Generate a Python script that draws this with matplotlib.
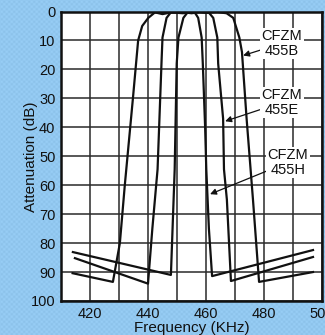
import numpy as np
import matplotlib.pyplot as plt

# filter response curves (freq in kHz, attenuation in dB)
freq_b = [414.0, 427.9, 430.3, 432.0, 434.8, 436.6, 438.0, 440.1, 442.4, 445.0, 448.0,
          452.0, 456.0, 460.0, 464.0, 467.1, 469.4, 471.5, 472.4, 474.0, 476.2, 478.3, 496.9]
att_b = [90.4, 93.4, 80.0, 60.0, 30.0, 10.0, 5.0, 2.2, 0.3, 0.9, 0.3,
         0.6, 0.1, 0.4, 0.2, 0.6, 2.2, 9.0, 14.0, 37.0, 65.0, 93.4, 90.0]

freq_e = [414.8, 440.0, 441.5, 443.3, 444.7, 445.0, 446.4, 447.8, 451.0, 455.0, 458.0,
          461.0, 462.5, 463.9, 464.2, 465.9, 466.2, 467.2, 468.6, 496.9]
att_e = [85.2, 94.0, 75.0, 54.5, 16.5, 9.0, 2.2, 0.4, 0.1, 0.6, 0.2,
         0.4, 2.2, 9.0, 18.0, 37.0, 54.5, 65.0, 93.1, 84.8]

freq_h = [414.1, 447.9, 449.2, 449.9, 450.5, 452.2, 453.5, 455.0, 456.3, 457.3, 458.5,
          458.9, 459.7, 460.1, 461.0, 462.1, 496.9]
att_h = [83.1, 91.0, 54.5, 18.0, 9.0, 2.2, 0.5, 0.2, 0.6, 2.2, 9.0,
         18.0, 40.0, 54.5, 75.0, 91.4, 82.4]

labels = ['CFZM\n455B', 'CFZM\n455E', 'CFZM\n455H']
label_pos = [(486.2, 11.0), (486.2, 31.4), (488.3, 52.1)]
arrow_tip = [(472.8, 15.2), (466.6, 37.9), (461.4, 63.1)]

x_ticks = [420, 440, 460, 480, 500]
y_ticks = list(range(0, 101, 10))

bg = '#92c8f0'
plt.rcParams['font.family'] = ['Liberation Sans', 'DejaVu Sans']

fig = plt.figure(figsize=(3.25, 3.35), dpi=100, facecolor=bg)

# light screen texture of the printed background
yy, xx = np.mgrid[0:335, 0:325]
tex = 0.5 * (np.sin(xx * 2 * np.pi / 5.0) * np.sin(yy * 2 * np.pi / 5.0))
base = np.array([0x92, 0xc8, 0xf0]) / 255.0
img = np.clip(base[None, None, :] + 0.05 * tex[:, :, None], 0, 1)
fig.figimage(img, 0, 0, zorder=-10)

ax = fig.add_axes([61 / 325, 1 - 301 / 335, 261 / 325, 289.5 / 335], zorder=1)
ax.set_facecolor('white')

for f in range(410, 501, 10):
    ax.axvline(f, color='#2a2a2a', lw=1.1, zorder=1)
for a in y_ticks:
    ax.axhline(a, color='#2a2a2a', lw=1.1, zorder=1)

for fr, at in [(freq_b, att_b), (freq_e, att_e), (freq_h, att_h)]:
    ax.plot(fr, at, color='#111111', lw=1.6, zorder=3, solid_joinstyle='round')

for txt, pos, tip in zip(labels, label_pos, arrow_tip):
    ax.annotate(txt, xy=tip, xytext=pos, ha='center', va='center', fontsize=10.5,
                color='#111111', linespacing=1.05, zorder=5,
                bbox=dict(boxstyle='square,pad=0.1', fc='white', ec='none'),
                arrowprops=dict(arrowstyle='-|>', color='#111111', lw=0.9,
                                mutation_scale=9, shrinkA=0, shrinkB=0))

ax.set_xlim(410, 500)
ax.set_ylim(100, 0)
ax.set_xticks(x_ticks)
ax.set_yticks(y_ticks)
ax.tick_params(length=0, labelsize=10.5, pad=4, colors='#111111')
for s in ax.spines.values():
    s.set_linewidth(1.8)
    s.set_color('#111111')
ax.set_xlabel('Frequency (KHz)', fontsize=11, labelpad=0, color='#111111')
ax.set_ylabel('Attenuation (dB)', fontsize=11, labelpad=-5, color='#111111')

fig.savefig('out.png', dpi=100, facecolor=bg)
